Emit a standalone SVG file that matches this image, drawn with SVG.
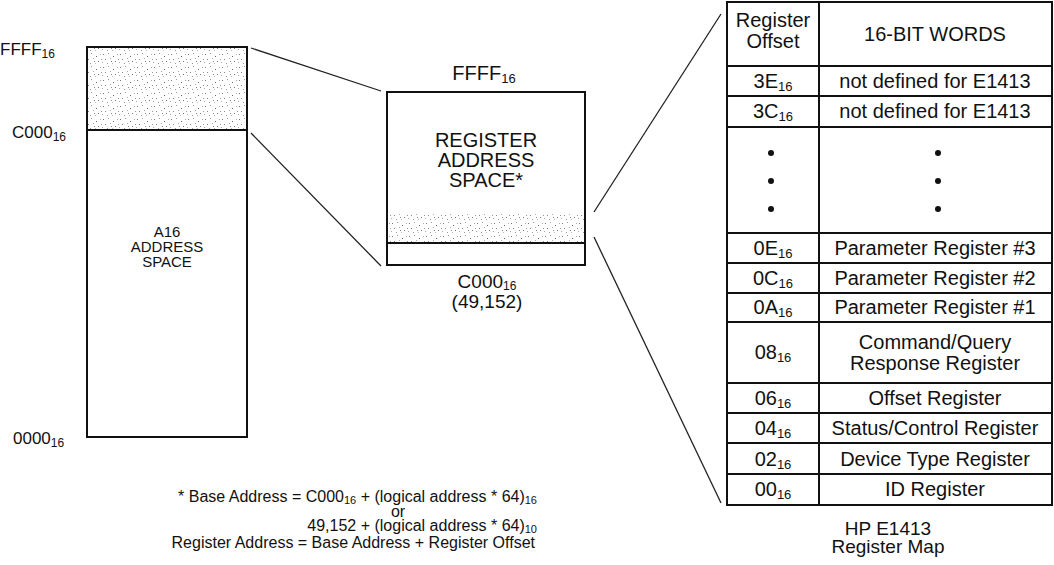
<svg xmlns="http://www.w3.org/2000/svg" width="1054" height="565" viewBox="0 0 1054 565">
<defs>
<style>
text{font-family:"Liberation Sans",Arial,sans-serif;fill:#111}
.box{fill:none;stroke:#111;stroke-width:2}
.conn{stroke:#222;stroke-width:1.3;fill:none}
.t15{font-size:15px}
.t17{font-size:17px}
.t19{font-size:19px}
.t20{font-size:20px}
.tb{font-size:20px}
.ft{font-size:16px}
.mid{text-anchor:middle}
.dot{fill:#111}
</style>
<pattern id="stip" width="17" height="13" patternUnits="userSpaceOnUse">
<rect width="17" height="13" fill="#fff"/>
<rect x="1" y="2" width="1" height="1" fill="#777"/>
<rect x="6" y="1" width="1" height="1" fill="#999"/>
<rect x="11" y="4" width="1" height="1" fill="#666"/>
<rect x="15" y="2" width="1" height="1" fill="#aaa"/>
<rect x="3" y="7" width="1" height="1" fill="#888"/>
<rect x="8" y="6" width="1" height="1" fill="#aaa"/>
<rect x="13" y="9" width="1" height="1" fill="#777"/>
<rect x="5" y="11" width="1" height="1" fill="#999"/>
<rect x="10" y="11" width="1" height="1" fill="#bbb"/>
<rect x="16" y="7" width="1" height="1" fill="#999"/>
<rect x="0" y="10" width="1" height="1" fill="#aaa"/>
<rect x="9" y="9" width="1" height="1" fill="#888"/>
</pattern>
</defs>

<g id="connectors">
<line class="conn" x1="251" y1="48" x2="381" y2="91"/>
<line class="conn" x1="251" y1="133" x2="381" y2="266"/>
<line class="conn" x1="594" y1="212" x2="721" y2="14"/>
<line class="conn" x1="594" y1="237" x2="721" y2="503"/>
</g>

<g id="a16-space">
<rect x="87" y="47" width="160" height="83" fill="url(#stip)"/>
<rect class="box" x="87" y="47" width="160" height="390"/>
<line class="box" x1="87" y1="130" x2="247" y2="130"/>
<text class="t17" x="0" y="55">FFFF<tspan font-size="12" dy="3">16</tspan></text>
<text class="t17" x="12" y="138">C000<tspan font-size="12" dy="3">16</tspan></text>
<text class="t17" x="13" y="444">0000<tspan font-size="12" dy="3">16</tspan></text>
<text class="t15 mid" x="167" y="237">A16</text>
<text class="t15 mid" x="167" y="252">ADDRESS</text>
<text class="t15 mid" x="167" y="267">SPACE</text>
</g>

<g id="register-space">
<rect x="387" y="214" width="198" height="29" fill="url(#stip)"/>
<rect class="box" x="387" y="92" width="198" height="173"/>
<line class="box" x1="387" y1="243" x2="585" y2="243"/>
<text class="t20 mid" x="484" y="80">FFFF<tspan font-size="13" dy="3">16</tspan></text>
<text class="t20 mid" x="486" y="147">REGISTER</text>
<text class="t20 mid" x="486" y="167">ADDRESS</text>
<text class="t20 mid" x="486" y="187">SPACE*</text>
<text class="t19 mid" x="487" y="288">C000<tspan font-size="12" dy="2">16</tspan></text>
<text class="t19 mid" x="487" y="308">(49,152)</text>
</g>

<g id="register-map">
<rect class="box" x="727" y="2" width="325" height="503"/>
<line class="box" x1="819" y1="2" x2="819" y2="505"/>
<g stroke="#111" stroke-width="2">
<line x1="727" y1="66" x2="1052" y2="66"/>
<line x1="727" y1="96" x2="1052" y2="96"/>
<line x1="727" y1="127" x2="1052" y2="127"/>
<line x1="727" y1="233" x2="1052" y2="233"/>
<line x1="727" y1="263" x2="1052" y2="263"/>
<line x1="727" y1="293" x2="1052" y2="293"/>
<line x1="727" y1="322" x2="1052" y2="322"/>
<line x1="727" y1="383" x2="1052" y2="383"/>
<line x1="727" y1="413" x2="1052" y2="413"/>
<line x1="727" y1="443" x2="1052" y2="443"/>
<line x1="727" y1="474" x2="1052" y2="474"/>
</g>
<text class="tb mid" x="773" y="27">Register</text>
<text class="tb mid" x="773" y="48">Offset</text>
<text class="tb mid" x="935" y="41">16-BIT WORDS</text>
<text class="tb mid" x="773" y="88">3E<tspan font-size="13" dy="3">16</tspan></text>
<text class="tb mid" x="935" y="88">not defined for E1413</text>
<text class="tb mid" x="773" y="118">3C<tspan font-size="13" dy="3">16</tspan></text>
<text class="tb mid" x="935" y="118">not defined for E1413</text>
<circle class="dot" cx="771" cy="153" r="3"/>
<circle class="dot" cx="771" cy="181" r="3"/>
<circle class="dot" cx="771" cy="209" r="3"/>
<circle class="dot" cx="938" cy="153" r="3"/>
<circle class="dot" cx="938" cy="181" r="3"/>
<circle class="dot" cx="938" cy="209" r="3"/>
<text class="tb mid" x="773" y="255">0E<tspan font-size="13" dy="3">16</tspan></text>
<text class="tb mid" x="935" y="255">Parameter Register #3</text>
<text class="tb mid" x="773" y="285">0C<tspan font-size="13" dy="3">16</tspan></text>
<text class="tb mid" x="935" y="285">Parameter Register #2</text>
<text class="tb mid" x="773" y="314">0A<tspan font-size="13" dy="3">16</tspan></text>
<text class="tb mid" x="935" y="314">Parameter Register #1</text>
<text class="tb mid" x="773" y="359">08<tspan font-size="13" dy="3">16</tspan></text>
<text class="tb mid" x="935" y="349">Command/Query</text>
<text class="tb mid" x="935" y="370">Response Register</text>
<text class="tb mid" x="773" y="405">06<tspan font-size="13" dy="3">16</tspan></text>
<text class="tb mid" x="935" y="405">Offset Register</text>
<text class="tb mid" x="773" y="435">04<tspan font-size="13" dy="3">16</tspan></text>
<text class="tb mid" x="935" y="435">Status/Control Register</text>
<text class="tb mid" x="773" y="466">02<tspan font-size="13" dy="3">16</tspan></text>
<text class="tb mid" x="935" y="466">Device Type Register</text>
<text class="tb mid" x="773" y="496">00<tspan font-size="13" dy="3">16</tspan></text>
<text class="tb mid" x="935" y="496">ID Register</text>
<text class="t19 mid" x="888" y="535">HP E1413</text>
<text class="t19 mid" x="888" y="553">Register Map</text>
</g>

<g id="footnote">
<text class="ft" x="537" y="502" text-anchor="end">* Base Address = C000<tspan font-size="11" dy="2">16</tspan><tspan dy="-2"> + (logical address * 64)</tspan><tspan font-size="11" dy="2">16</tspan></text>
<text class="ft mid" x="398" y="517">or</text>
<text class="ft" x="537" y="531" text-anchor="end">49,152 + (logical address * 64)<tspan font-size="11" dy="2">10</tspan></text>
<text class="ft" x="535" y="548" text-anchor="end">Register Address = Base Address + Register Offset</text>
</g>
</svg>
